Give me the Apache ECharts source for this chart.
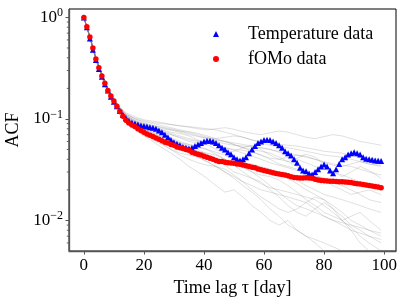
<!DOCTYPE html>
<html><head><meta charset="utf-8">
<script src="https://cdn.jsdelivr.net/npm/echarts@6/dist/echarts.min.js"></script>
<style>html,body{margin:0;padding:0;background:#fff}#c{width:407px;height:305px}</style>
</head><body><div id="c"></div>
<script>
// Time lags (days) for the observed ACFs
const lags = Array.from({length: 100}, (_, i) => i);

// Temperature data ACF (blue triangles)
const temperatureACF = [
1.0,0.80,0.62,0.48,0.38,0.31,0.26,0.22,0.19,0.165,
0.148,0.133,0.12,0.11,0.102,0.096,0.092,0.09,0.088,0.086,
0.085,0.084,0.083,0.082,0.080,0.077,0.074,0.070,0.066,0.062,
0.059,0.057,0.055,0.053,0.052,0.051,0.052,0.054,0.056,0.058,
0.060,0.061,0.061,0.060,0.058,0.055,0.052,0.050,0.047,0.045,
0.042,0.040,0.039,0.040,0.042,0.046,0.050,0.054,0.058,0.060,
0.062,0.0625,0.062,0.060,0.058,0.055,0.052,0.048,0.046,0.0435,
0.040,0.037,0.033,0.031,0.0305,0.029,0.0283,0.030,0.032,0.034,
0.0356,0.034,0.031,0.0292,0.032,0.036,0.040,0.042,0.0445,0.046,
0.047,0.046,0.0445,0.042,0.0405,0.040,0.0395,0.039,0.0388,0.0385];

// fOMo data ACF (red circles)
const fomoACF = [
1.0,0.81,0.64,0.50,0.39,0.32,0.265,0.225,0.19,0.168,
0.15,0.133,0.118,0.106,0.097,0.091,0.087,0.084,0.080,0.077,
0.074,0.071,0.069,0.067,0.065,0.063,0.061,0.059,0.058,0.056,
0.055,0.053,0.052,0.051,0.050,0.049,0.047,0.046,0.045,0.044,
0.043,0.042,0.041,0.040,0.039,0.038,0.038,0.0375,0.037,0.0368,
0.0365,0.036,0.0358,0.0352,0.0345,0.034,0.0335,0.033,0.0322,0.0315,
0.031,0.0305,0.030,0.0295,0.029,0.0287,0.0284,0.028,0.0275,0.027,
0.0265,0.0263,0.0262,0.0262,0.0263,0.0262,0.026,0.0255,0.025,0.0248,
0.0246,0.0244,0.0243,0.0243,0.0242,0.0241,0.024,0.0239,0.0238,0.0236,
0.0233,0.023,0.0229,0.0226,0.0223,0.0221,0.0219,0.0216,0.0213,0.021];

// Lags at which the grey simulated ACF curves are sampled
const simLags = [0,2,4,6,8,10,12,14,17,20,23,26,29,32,35,38,41,44,47,50,53,56,59,62,65,68,71,74,77,80,83,86,89,92,95,99];

// Grey simulated ACF curves (estimated from the haze)
const simCurves = [
[1,.65,.40,.28,.20,.16,.13,.115,.105,.098,.095,.092,.088,.085,.083,.080,.078,.080,.082,.079,.075,.072,.070,.073,.076,.074,.070,.066,.064,.067,.070,.068,.064,.060,.058,.055],
[1,.64,.39,.27,.19,.15,.12,.10,.088,.080,.074,.070,.065,.060,.056,.052,.050,.047,.044,.040,.037,.035,.033,.030,.028,.026,.023,.020,.018,.016,.014,.012,.010,.009,.008,.007],
[1,.64,.40,.27,.19,.152,.125,.108,.095,.088,.082,.078,.074,.072,.068,.062,.056,.050,.046,.048,.052,.055,.050,.044,.040,.038,.041,.045,.042,.036,.030,.027,.030,.034,.031,.026],
[1,.63,.38,.26,.18,.14,.11,.092,.078,.068,.060,.052,.046,.040,.034,.030,.026,.022,.019,.020,.017,.014,.012,.010,.009,.010,.008,.007,.006,.005,.0045,.004,.0035,.003,.003,.003],
[1,.65,.40,.28,.20,.155,.125,.105,.092,.085,.080,.075,.070,.066,.062,.060,.058,.055,.052,.050,.049,.047,.044,.041,.040,.042,.044,.043,.040,.037,.035,.034,.036,.038,.036,.034],
[1,.64,.39,.27,.19,.148,.118,.100,.086,.078,.072,.066,.060,.055,.050,.046,.043,.040,.038,.036,.034,.030,.026,.022,.019,.016,.014,.013,.012,.011,.010,.0095,.009,.0085,.008,.0075],
[1,.65,.41,.28,.20,.16,.128,.110,.100,.094,.090,.086,.082,.078,.075,.072,.068,.064,.060,.056,.052,.050,.048,.046,.042,.038,.034,.030,.028,.026,.024,.022,.020,.018,.016,.015],
[1,.64,.40,.27,.19,.15,.12,.102,.090,.082,.076,.070,.064,.058,.054,.050,.045,.040,.035,.030,.028,.026,.024,.020,.017,.014,.012,.011,.013,.015,.013,.011,.009,.008,.007,.006],
[1,.65,.40,.28,.195,.155,.125,.108,.096,.088,.084,.080,.078,.076,.074,.070,.066,.062,.060,.058,.056,.054,.052,.050,.048,.046,.044,.042,.040,.038,.036,.035,.034,.032,.030,.028],
[1,.63,.39,.26,.185,.145,.115,.097,.083,.074,.066,.058,.050,.044,.040,.037,.035,.034,.032,.028,.024,.020,.017,.015,.013,.012,.013,.015,.017,.016,.013,.010,.008,.006,.005,.004],
[1,.65,.40,.28,.20,.158,.128,.112,.102,.096,.092,.090,.088,.086,.084,.082,.080,.078,.074,.070,.066,.062,.060,.058,.056,.055,.054,.052,.050,.048,.047,.046,.044,.042,.041,.040],
[1,.64,.39,.27,.19,.15,.12,.10,.087,.078,.070,.064,.060,.058,.056,.054,.050,.045,.040,.036,.033,.030,.028,.027,.025,.022,.019,.016,.014,.012,.011,.010,.011,.012,.010,.008],
[1,.64,.40,.27,.19,.15,.122,.105,.093,.086,.080,.075,.070,.065,.060,.058,.060,.062,.060,.056,.052,.048,.044,.040,.036,.034,.032,.030,.028,.025,.022,.020,.018,.019,.020,.018],
[1,.63,.38,.26,.18,.14,.112,.094,.080,.070,.062,.056,.050,.046,.044,.042,.038,.034,.030,.026,.022,.019,.016,.013,.011,.009,.008,.007,.0065,.006,.0055,.005,.0048,.0045,.0042,.004],
[1,.65,.40,.28,.20,.155,.126,.108,.097,.090,.086,.083,.080,.076,.072,.068,.064,.060,.057,.055,.054,.053,.052,.050,.047,.044,.040,.037,.034,.032,.030,.028,.026,.024,.022,.020],
[1,.64,.39,.27,.19,.15,.12,.10,.088,.080,.073,.067,.062,.057,.052,.048,.044,.041,.039,.038,.037,.036,.034,.032,.030,.028,.025,.022,.020,.018,.017,.016,.015,.014,.013,.012],
[1,.65,.41,.28,.20,.16,.13,.112,.100,.092,.086,.082,.078,.074,.070,.067,.065,.064,.066,.068,.066,.062,.058,.055,.053,.052,.050,.048,.046,.044,.043,.042,.040,.038,.036,.035],
[1,.64,.39,.27,.19,.148,.118,.099,.085,.076,.068,.062,.056,.050,.046,.042,.038,.034,.030,.027,.024,.022,.020,.019,.018,.017,.016,.015,.013,.011,.010,.009,.008,.0075,.007,.0065],
[1,.64,.40,.27,.19,.152,.123,.106,.094,.087,.082,.077,.072,.068,.064,.061,.058,.055,.052,.049,.046,.043,.040,.037,.035,.033,.031,.029,.027,.026,.025,.024,.023,.022,.021,.020],
[1,.63,.39,.26,.185,.145,.116,.098,.085,.076,.069,.063,.058,.054,.051,.048,.046,.044,.040,.035,.030,.026,.023,.021,.020,.019,.018,.017,.016,.014,.012,.010,.0085,.007,.006,.005]
];

// Axis ticks
const xTicks = [0, 20, 40, 60, 80, 100];
const yMinorTicks = [0.006,0.007,0.008,0.009,0.02,0.03,0.04,0.05,0.06,0.07,0.08,0.09,0.2,0.3,0.4,0.5,0.6,0.7,0.8,0.9];

const FONT = 'Liberation Serif';
const chart = echarts.init(document.getElementById('c'), null, {renderer: 'canvas'});

const series = simCurves.map(c => ({
  type: 'line', data: simLags.map((l, i) => [l, c[i]]),
  showSymbol: false, symbol: 'none', silent: true, z: 1,
  lineStyle: {color: '#7f7f7f', width: 1, opacity: 0.24}
}));
series.push({
  name: 'Temperature data', type: 'scatter', symbol: 'triangle', symbolSize: 6, z: 3,
  itemStyle: {color: '#0000ff', opacity: 1}, data: lags.map((l, i) => [l, temperatureACF[i]])
});
series.push({
  name: 'fOMo data', type: 'scatter', symbol: 'circle', symbolSize: 5.5, z: 4,
  itemStyle: {color: '#ff0000', opacity: 1}, data: lags.map((l, i) => [l, fomoACF[i]])
});
series.push({
  type: 'custom', silent: true, z: 5, clip: false,
  data: yMinorTicks.map(v => [0, v]),
  renderItem: (params, api) => {
    const y = api.coord([0, api.value(1)])[1];
    const x0 = params.coordSys.x;
    return {type: 'line', shape: {x1: x0 - 2.2, y1: y, x2: x0, y2: y},
      style: {stroke: '#555', lineWidth: 0.9}};
  }
});

const supMap = {'0': '0', '-1': '−1', '-2': '−2'};
chart.setOption({
  animation: false,
  backgroundColor: '#fff',
  grid: {left: 69, right: 11, top: 9, bottom: 54, show: true, borderColor: '#000', borderWidth: 1,
    backgroundColor: 'transparent', containLabel: false, outerBoundsMode: 'none'},
  legend: {
    data: ['Temperature data', 'fOMo data'], orient: 'vertical', left: 208, top: 20,
    itemWidth: 6, itemHeight: 6, itemGap: 7,
    textStyle: {fontFamily: FONT, fontSize: 18, color: '#000', padding: [0, 0, 0, 24]}
  },
  xAxis: {
    type: 'value', min: -4.95, max: 103.95,
    name: 'Time lag τ [day]', nameLocation: 'middle', nameGap: 27,
    nameTextStyle: {fontFamily: FONT, fontSize: 18, color: '#000'},
    axisLine: {show: true, onZero: false, lineStyle: {color: '#555', width: 1.3}},
    axisTick: {show: true, customValues: xTicks, length: 3.5, lineStyle: {color: '#555'}},
    axisLabel: {customValues: xTicks, fontFamily: FONT, fontSize: 17, color: '#000', margin: 6},
    splitLine: {show: false}
  },
  yAxis: {
    type: 'log', min: 0.005, max: 1.21, splitNumber: 3,
    name: 'ACF', nameLocation: 'middle', nameGap: 40, nameRotate: 90,
    nameTextStyle: {fontFamily: FONT, fontSize: 18, color: '#000'},
    axisLine: {show: true, onZero: false, lineStyle: {color: '#555', width: 1.3}},
    axisTick: {show: true, length: 3.5, lineStyle: {color: '#555'}},
    axisLabel: {
      fontFamily: FONT, fontSize: 17, color: '#000', margin: 6,
      showMinLabel: false, showMaxLabel: false,
      formatter: v => {
        const e = Math.round(Math.log10(v));
        return '10{sup|' + (supMap[String(e)] || String(e)) + '}';
      },
      rich: {sup: {fontFamily: FONT, fontSize: 12, color: '#000', verticalAlign: 'bottom', padding: [0, 0, 9, 0]}}
    },
    splitLine: {show: false}, minorTick: {show: false}
  },
  series
});
</script></body></html>
